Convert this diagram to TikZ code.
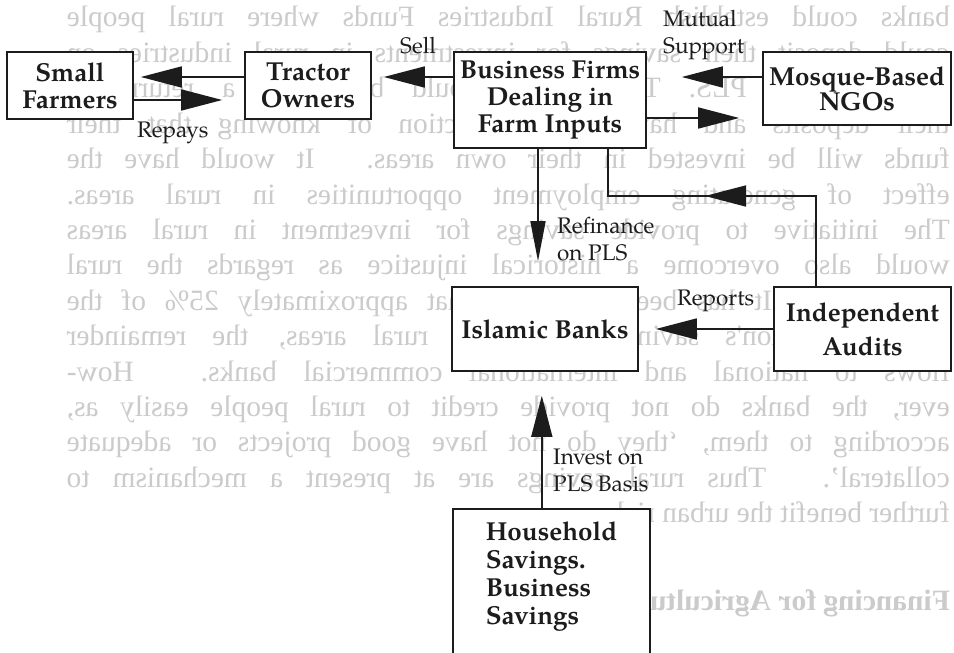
\documentclass[tikz,border=0pt]{standalone}
\usepackage{fontspec}
\usepackage{graphicx}
\newfontfamily\ghostfont{Liberation Serif}
\newfontfamily\palfont{texgyrepagella}[Extension=.otf,
  UprightFont=*-regular, BoldFont=*-bold]
\usetikzlibrary{arrows.meta}

% show-through of the reverse page: mirrored, justified lines
\newcommand\mirrorline[1]{\reflectbox{\makebox[883pt][s]{#1}}}

\definecolor{ink}{RGB}{28,28,28}
\definecolor{ghostgray}{RGB}{203,203,203}

\tikzset{
  ghost/.style={anchor=base east, inner sep=0pt, text=ghostgray,
    font=\ghostfont\fontsize{29.5}{34}\selectfont},
  box/.style={draw=ink, fill=white, line width=1.6pt, inner sep=0pt,
    align=center, text=ink, font=\palfont\bfseries\fontsize{26}{27}\selectfont},
  lab/.style={inner sep=0pt, align=left, text=ink,
    font=\palfont\fontsize{22.5}{27}\selectfont},
  link/.style={draw=ink, line width=1.6pt},
  arr/.style={link, -{Triangle[length=41pt,width=21pt]}},
  narrowarr/.style={link, -{Triangle[length=40pt,width=15pt]}}
}

\begin{document}
\begin{tikzpicture}[x=1pt,y=-1pt]
\useasboundingbox (0,0) rectangle (954,653);
\fill[white] (0,0) rectangle (954,653);

% ---- text showing through from the other side of the leaf ----
\node[ghost] (g1)  at (950,27)    {\mirrorline{banks could establish Rural Industries Funds where rural people}};
\node[ghost] (g2)  at (950,62.4)  {\mirrorline{could deposit their savings for investments in rural industries on}};
\node[ghost] (g3)  at (950,97.8)  {\mirrorline{the basis of PLS. The savers would be given a return on}};
\node[ghost] (g4)  at (950,133.2) {\mirrorline{their deposits and have the satisfaction of knowing that their}};
\node[ghost] (g5)  at (950,168.6) {\mirrorline{funds will be invested in their own areas. It would have the}};
\node[ghost] (g6)  at (950,204)   {\mirrorline{effect of generating employment opportunities in rural areas.}};
\node[ghost] (g7)  at (950,239.4) {\mirrorline{The initiative to provide savings for investment in rural areas}};
\node[ghost] (g8)  at (950,274.8) {\mirrorline{would also overcome a historical injustice as regards the rural}};
\node[ghost] (g9)  at (950,310.2) {\mirrorline{population. It has been estimated that approximately 25\% of the}};
\node[ghost] (g10) at (950,345.6) {\mirrorline{rural population's savings remain in rural areas, the remainder}};
\node[ghost] (g11) at (950,381)   {\mirrorline{flows to national and international commercial banks. How-}};
\node[ghost] (g12) at (950,416.4) {\mirrorline{ever, the banks do not provide credit to rural people easily as,}};
\node[ghost] (g13) at (950,451.8) {\mirrorline{according to them, ‘they do not have good projects or adequate}};
\node[ghost] (g14) at (950,487.2) {\mirrorline{collateral’. Thus rural savings are at present a mechanism to}};
\node[ghost] (g15) at (950,522.6) {\reflectbox{further benefit the urban rich.}};
\node[ghost, font=\ghostfont\bfseries\fontsize{29.5}{34}\selectfont] (g16) at (950,610)
  {\reflectbox{Financing for Agricultural Inputs}};

% ---- boxes ----
\node[box, minimum width=126pt, minimum height=67pt] (farmers) at (70,85.5) {Small\\Farmers};
\node[box, minimum width=126pt, minimum height=67pt] (tractor) at (308,85.5) {Tractor\\Owners};
\node[box, minimum width=192pt, minimum height=96pt] (firms) at (550,100)
  {Business Firms\\Dealing in\\Farm Inputs};
\node[box, minimum width=188pt, minimum height=73pt,
      font=\palfont\bfseries\fontsize{26}{25}\selectfont] (mosque) at (857,88.5) {Mosque-Based\\NGOs};
\node[box, minimum width=186pt, minimum height=84pt] (banks) at (545,329) {Islamic Banks};
\node[box, minimum width=177pt, minimum height=84pt,
      font=\palfont\bfseries\fontsize{26}{34}\selectfont] (audits) at (862.5,329) {Independent\\Audits};
\node[box, anchor=north west, inner xsep=33pt, inner ysep=13pt,
      font=\palfont\bfseries\fontsize{26}{28}\selectfont] (household) at (452,508)
  {\parbox[t][150pt][t]{131pt}{\raggedright Household\\Savings.\\Business\\Savings}};

% ---- connector labels ----
\node[lab, anchor=base west] (repays) at (137,137) {Repays};
\node[lab, anchor=base west] (sell) at (400,53) {Sell};
\node[lab, anchor=north west] (mutual) at (663,10) {Mutual\\Support};
\node[lab, anchor=north west] (refin) at (557,216.5) {Refinance\\on PLS};
\node[lab, anchor=base west] (reports) at (677,305) {Reports};
\node[lab, anchor=north west] (invest) at (553,448.5) {Invest on\\PLS Basis};

% ---- connectors ----
\coordinate (tfstart) at ([yshift=8.5pt]tractor.west);
\draw[arr, shorten >=7pt] (tfstart) -- (tfstart -| farmers.east);

\coordinate (ftstart) at ([yshift=-14.5pt]farmers.east);
\draw[arr, shorten >=22pt] (ftstart) -- (ftstart -| tractor.west);

\coordinate (sellstart) at ([yshift=23pt]firms.west);
\draw[arr, shorten >=12pt] (sellstart) -- (sellstart -| tractor.east);

\coordinate (mutstart) at ([yshift=11.5pt]mosque.west);
\draw[arr, shorten >=35pt] (mutstart) -- (mutstart -| firms.east);

\coordinate (fmstart) at ([yshift=-18pt]firms.east);
\draw[arr, shorten >=23pt] (fmstart) -- (fmstart -| mosque.west);

\coordinate (refstart) at ([xshift=-12pt]firms.south);
\draw[narrowarr, shorten >=25pt] (refstart) -- (refstart |- banks.north);

\coordinate (auditbend) at (816,196);
\draw[link] (auditbend |- audits.north) -- (auditbend) -| ([xshift=58pt]firms.south);
\draw[arr] (auditbend) -- ([xshift=-111pt]auditbend);

\draw[arr, shorten >=17pt] (audits.west) -- (banks.east);

\coordinate (invstart) at ([xshift=-9.5pt]household.north);
\draw[arr, shorten >=24pt] (invstart) -- (invstart |- banks.south);
\end{tikzpicture}
\end{document}
